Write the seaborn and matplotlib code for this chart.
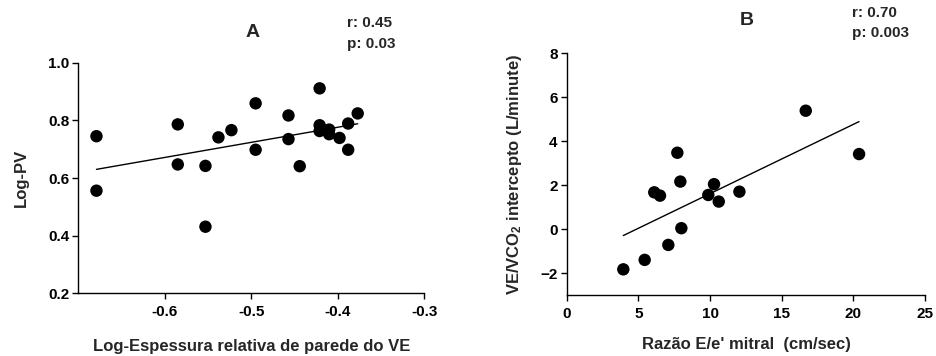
import matplotlib
matplotlib.use("Agg")
import matplotlib.pyplot as plt
import seaborn as sns
import numpy as np

# Panel A data
xA = [-0.679, -0.679, -0.585, -0.585, -0.553, -0.553, -0.538, -0.523, -0.495, -0.495,
      -0.457, -0.457, -0.444, -0.421, -0.421, -0.421, -0.410, -0.410, -0.398, -0.388,
      -0.388, -0.377]
yA = [0.745, 0.556, 0.786, 0.647, 0.642, 0.431, 0.741, 0.766, 0.859, 0.698,
      0.817, 0.735, 0.641, 0.911, 0.783, 0.763, 0.768, 0.752, 0.739, 0.789,
      0.698, 0.824]
xticksA = [-0.6, -0.5, -0.4, -0.3]
yticksA = [0.2, 0.4, 0.6, 0.8, 1.0]

# Panel B data
xB = [3.95, 5.44, 7.09, 8.00, 6.11, 6.51, 7.72, 7.93, 9.88, 10.28, 10.61, 12.05, 16.68, 20.40]
yB = [-1.82, -1.39, -0.71, 0.05, 1.68, 1.53, 3.48, 2.17, 1.56, 2.05, 1.26, 1.71, 5.39, 3.42]
xticksB = [0, 5, 10, 15, 20, 25]
yticksB = [-2, 0, 2, 4, 6, 8]

sns.set_style("ticks")
plt.rcParams['font.family'] = ['Liberation Sans', 'DejaVu Sans']
plt.rcParams['font.weight'] = 'bold'
plt.rcParams['mathtext.default'] = 'regular'

fig = plt.figure(figsize=(9.37, 3.56), dpi=100)
W, H = 937, 356

def add_ax(l, t, r, b):
    return fig.add_axes([l / W, 1 - b / H, (r - l) / W, (b - t) / H])

axA = add_ax(78.3, 62.7, 424.3, 293.3)
axB = add_ax(566.7, 53.3, 925.0, 295.3)

scat = dict(s=80, color='black', edgecolor='none', alpha=1)
line = dict(color='black', linewidth=1.0)

sns.regplot(x=xA, y=yA, ax=axA, ci=None, scatter_kws=scat, line_kws=line)
sns.regplot(x=xB, y=yB, ax=axB, ci=None, scatter_kws=scat, line_kws=line)

axA.set_xlim(-0.7, -0.3)
axA.set_ylim(0.2, 1.0)
axA.set_xticks(xticksA)
axA.set_xticklabels([f"{v:.1f}" for v in xticksA])
axA.set_yticks(yticksA)
axA.set_yticklabels([f"{v:.1f}" for v in yticksA])

axB.set_xlim(0, 25)
axB.set_ylim(-3, 8)
axB.set_xticks(xticksB)
axB.set_yticks(yticksB)

for ax in (axA, axB):
    sns.despine(ax=ax)
    for sp in ('left', 'bottom'):
        ax.spines[sp].set_linewidth(1.0)
        ax.spines[sp].set_color('black')
    ax.tick_params(axis='both', direction='out', length=4.5, width=1.0, color='black',
                   labelsize=11, labelcolor='black')
    ax.tick_params(axis='y', pad=2)
    ax.tick_params(axis='x', pad=4)
    for lab in ax.get_xticklabels() + ax.get_yticklabels():
        lab.set_fontweight('bold')
    ax.patch.set_alpha(0)
    for c in ax.collections:
        c.set_clip_on(False)

axA.set_xlabel("Log-Espessura relativa de parede do VE", fontsize=12, fontweight='bold', va='center')
axA.xaxis.set_label_coords(0.5, -0.23)
axA.set_ylabel("Log-PV", fontsize=12, fontweight='bold', va='center')
axA.yaxis.set_label_coords(-0.165, 0.5)

axB.set_xlabel("Razão E/e' mitral  (cm/sec)", fontsize=12, fontweight='bold', va='center')
axB.xaxis.set_label_coords(0.502, -0.205)
axB.set_ylabel("VE/VCO$_2$ intercepto (L/minute)", fontsize=12, fontweight='bold', va='center')
axB.yaxis.set_label_coords(-0.147, 0.5)

fig.text(252.5 / W, 1 - 32.5 / H, "A", fontsize=14, fontweight='bold', ha='center', va='center')
fig.text(746.5 / W, 1 - 20.8 / H, "B", fontsize=14, fontweight='bold', ha='center', va='center')

fig.text(346.7 / W, 1 - 27.3 / H, "r: 0.45", fontsize=11, fontweight='bold', ha='left', va='baseline')
fig.text(346.7 / W, 1 - 48.3 / H, "p: 0.03", fontsize=11, fontweight='bold', ha='left', va='baseline')
fig.text(852.3 / W, 1 - 16.7 / H, "r: 0.70", fontsize=11, fontweight='bold', ha='left', va='baseline')
fig.text(852.3 / W, 1 - 36.7 / H, "p: 0.003", fontsize=11, fontweight='bold', ha='left', va='baseline')

fig.savefig("out.png", dpi=100, facecolor='white')
